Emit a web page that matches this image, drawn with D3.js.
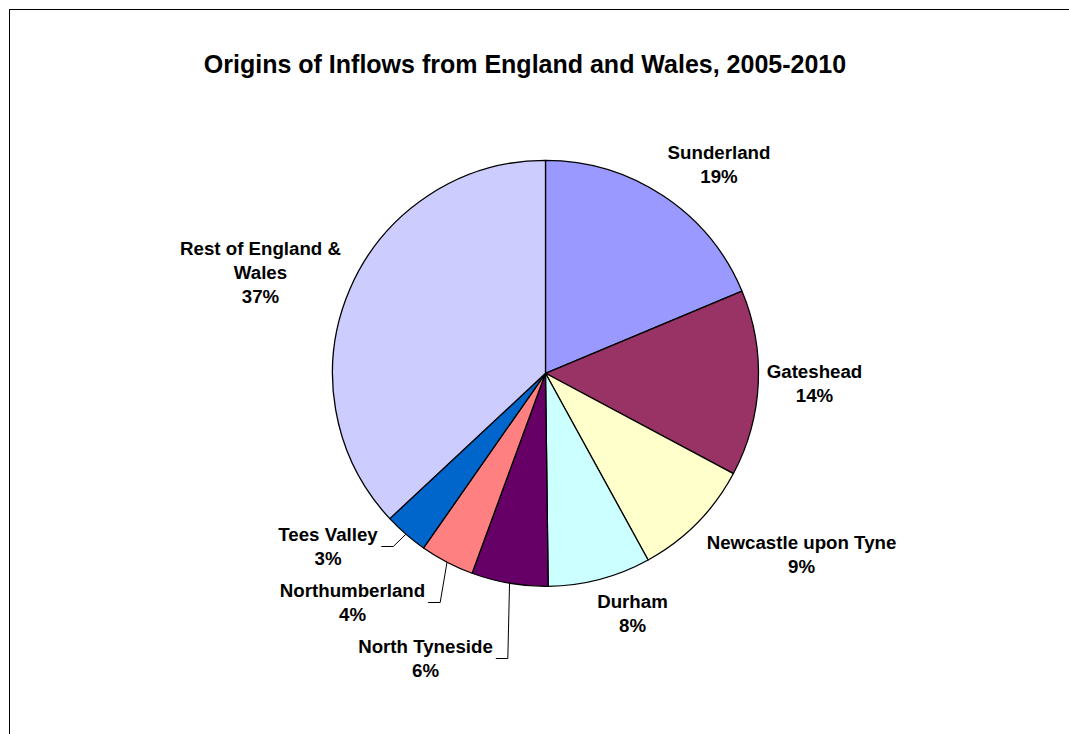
<!DOCTYPE html>
<html>
<head>
<meta charset="utf-8">
<script src="https://cdn.jsdelivr.net/npm/d3@7"></script>
<style>
body { margin:0; background:#fff; }
text { font-family: Arial, "Liberation Sans", sans-serif; font-weight:bold; fill:#000; }
</style>
</head>
<body>
<svg id="chart" width="1069" height="734"></svg>
<script>
// data
var categories = ["Sunderland","Gateshead","Newcastle upon Tyne","Durham","North Tyneside","Northumberland","Tees Valley","Rest of England & Wales"];
var shares = [18.7, 14.1, 9.2, 7.8, 5.8, 4.1, 3.35, 36.95];
var pctLabels = ["19%","14%","9%","8%","6%","4%","3%","37%"];
var colours = ["#9999FF","#993366","#FFFFCC","#CCFFFF","#660066","#FF8080","#0066CC","#CCCCFF"];

// label layout (block centre offset from pie centre, text lines)
var labelLines = [["Sunderland"],["Gateshead"],["Newcastle upon Tyne"],["Durham"],["North Tyneside"],["Northumberland"],["Tees Valley"],["Rest of England &","Wales"]];
var labelOffset = [[173.5,-209.3],[269,9.7],[256,180.7],[87,239.7],[-120,285.2],[-193,229.2],[-217.5,173.2],[-285,-101.3]];
var hasLeader = [false,false,false,false,true,true,true,false];

var width = 1069, height = 734;
var cx = 545.5, cy = 373.3, radius = 213;
var fontSize = 18.7, lineH = 24;

var svg = d3.select("#chart");

// outer frame
svg.append("rect")
	.attr("x",9.5)
	.attr("y",9.5)
	.attr("width",1200)
	.attr("height",900)
	.style("fill","#FFF")
	.style("stroke","#000")
	.style("stroke-width",1);

svg.append("text")
	.attr("x",525)
	.attr("y",73)
	.attr("text-anchor","middle")
	.style("font-size","25px")
	.text("Origins of Inflows from England and Wales, 2005-2010");

var dataset = categories.map(function(c,i){
	return {name:c, value:shares[i], pct:pctLabels[i], colour:colours[i], lines:labelLines[i], off:labelOffset[i], leader:hasLeader[i]};
});

var pie = d3.pie()
	.sort(null)
	.value(function(d){ return d.value; });

var arc = d3.arc()
	.innerRadius(0)
	.outerRadius(radius);

var g = svg.append("g")
	.attr("transform","translate(" + cx + "," + cy + ")");

var arcs = pie(dataset);

g.append("g")
	.attr("id","slices")
	.selectAll("path")
	.data(arcs)
	.enter()
	.append("path")
	.attr("d",arc)
	.attr("fill",function(d){ return d.data.colour; })
	.style("stroke","#000")
	.style("stroke-width",1.3)
	.style("stroke-linejoin","round");

// labels
var labels = g.append("g")
	.attr("id","labels")
	.selectAll("text")
	.data(arcs)
	.enter()
	.append("text")
	.attr("text-anchor","middle")
	.style("font-size",fontSize + "px");

labels.each(function(d){
	var t = d3.select(this);
	var lines = d.data.lines.concat([d.data.pct]);
	var top = d.data.off[1] - (lines.length - 1) * lineH / 2;
	lines.forEach(function(s,k){
		t.append("tspan")
			.attr("x",d.data.off[0])
			.attr("y",top + k * lineH + fontSize * 0.36)
			.text(s);
	});
});

// leader lines for the small slices
g.append("g")
	.attr("id","leaders")
	.selectAll("polyline")
	.data(arcs.filter(function(d){ return d.data.leader; }))
	.enter()
	.append("polyline")
	.attr("points",function(d){
		var node = labels.filter(function(e){ return e === d; }).node();
		var bb = node.getBBox();
		var x0 = bb.x + bb.width + 3;
		var y0 = d.data.off[1];
		var mid = (d.startAngle + d.endAngle) / 2;
		var ex = radius * Math.sin(mid), ey = -radius * Math.cos(mid);
		return [[x0,y0],[x0 + 12,y0],[ex,ey]].map(function(p){ return p.join(","); }).join(" ");
	})
	.style("fill","none")
	.style("stroke","#000")
	.style("stroke-width",1);
</script>
</body>
</html>
